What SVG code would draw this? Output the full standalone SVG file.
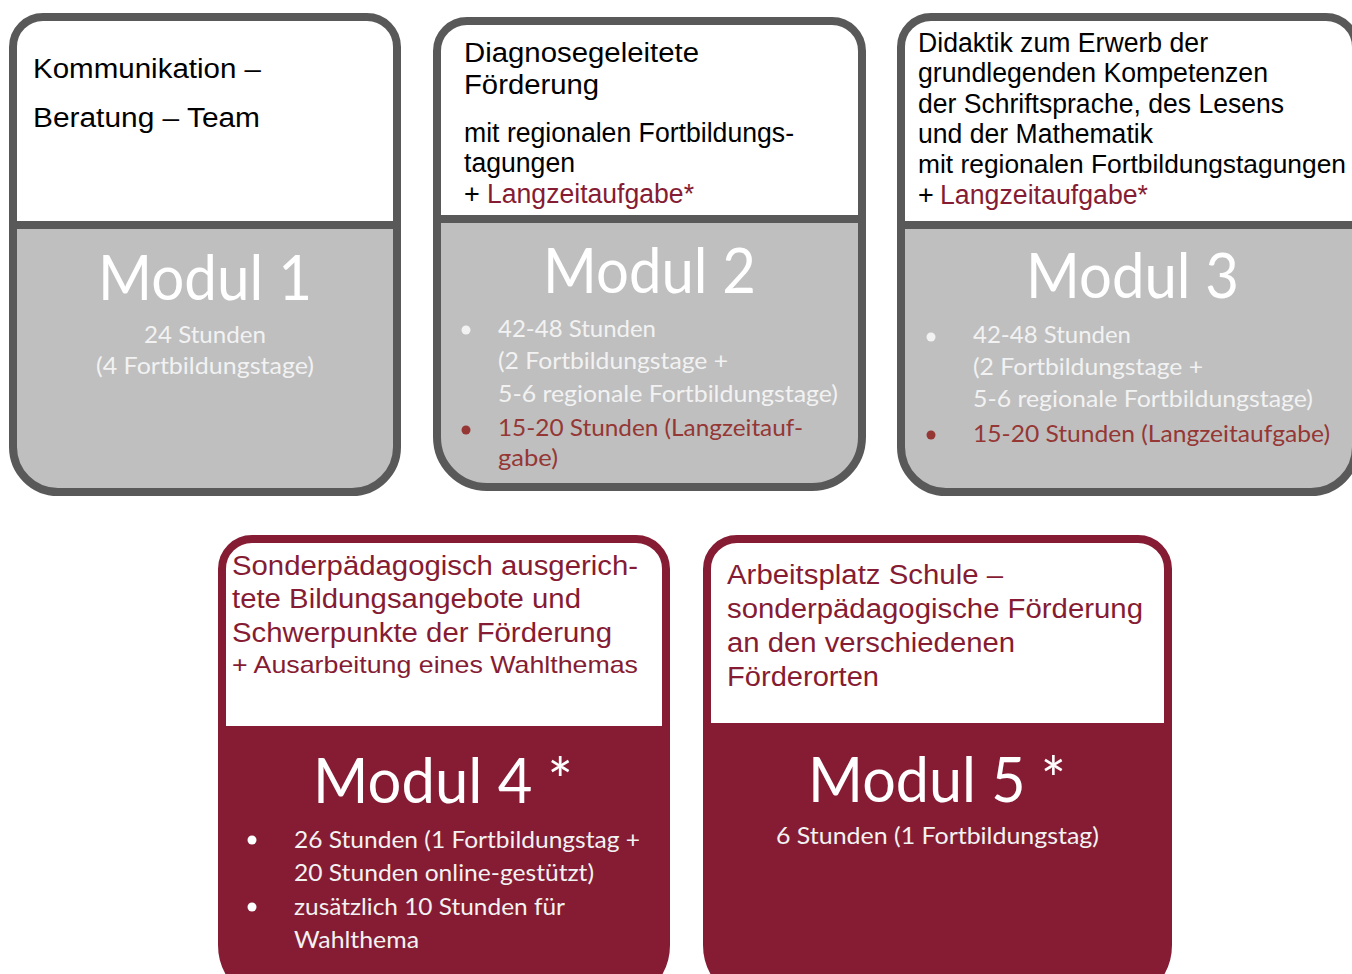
<svg xmlns="http://www.w3.org/2000/svg" width="1352" height="974" viewBox="0 0 1352 974">
<style>
.a{font-family:"Liberation Sans",Arial,sans-serif;font-size:27px;fill:#000}
.r{fill:#861c33}
.s{font-size:24px}
.n{font-size:26px}
.c{font-family:Lato,"Open Sans",sans-serif;fill:#f2f2f2}
.big{font-size:61px;fill:#fff}
.sm{font-size:23px}
.dr{fill:#953735}
.outG{fill:none;stroke:#595959;stroke-width:8}
.outR{fill:none;stroke:#861c33;stroke-width:8}
.gray{fill:#bfbfbf}
.white{fill:#fff}
.red{fill:#861c33}
</style>
<rect width="1352" height="974" fill="#fff"/>

<g id="modul1">
<path class="white" d="M43 17H367A30 30 0 0 1 397 47V225H13V47A30 30 0 0 1 43 17Z"/>
<path class="gray" d="M13 225H397V447A45 45 0 0 1 352 492H58A45 45 0 0 1 13 447Z"/>
<path class="outG" d="M43 17H367A30 30 0 0 1 397 47V447A45 45 0 0 1 352 492H58A45 45 0 0 1 13 447V47A30 30 0 0 1 43 17Z"/>
<line x1="13" y1="225" x2="397" y2="225" stroke="#595959" stroke-width="8"/>
<text class="a" x="33" y="78" textLength="228" lengthAdjust="spacingAndGlyphs">Kommunikation –</text>
<text class="a" x="33" y="127" textLength="227" lengthAdjust="spacingAndGlyphs">Beratung – Team</text>
<text class="c big" x="98" y="300" textLength="214" lengthAdjust="spacingAndGlyphs">Modul 1</text>
<text class="c sm" x="144" y="343" textLength="122" lengthAdjust="spacingAndGlyphs">24 Stunden</text>
<text class="c sm" x="96" y="374" textLength="218" lengthAdjust="spacingAndGlyphs">(4 Fortbildungstage)</text>
</g>

<g id="modul2">
<path class="white" d="M467 21H832A30 30 0 0 1 862 51V219H437V51A30 30 0 0 1 467 21Z"/>
<path class="gray" d="M437 219H862V437A50 50 0 0 1 812 487H487A50 50 0 0 1 437 437Z"/>
<path class="outG" d="M467 21H832A30 30 0 0 1 862 51V437A50 50 0 0 1 812 487H487A50 50 0 0 1 437 437V51A30 30 0 0 1 467 21Z"/>
<line x1="437" y1="219" x2="862" y2="219" stroke="#595959" stroke-width="8"/>
<text class="a" x="464" y="62" textLength="235" lengthAdjust="spacingAndGlyphs">Diagnosegeleitete</text>
<text class="a" x="464" y="94" textLength="135" lengthAdjust="spacingAndGlyphs">Förderung</text>
<text class="a" x="464" y="142" textLength="330" lengthAdjust="spacingAndGlyphs">mit regionalen Fortbildungs-</text>
<text class="a" x="464" y="172" textLength="111" lengthAdjust="spacingAndGlyphs">tagungen</text>
<text class="a" x="464" y="203">+</text>
<text class="a r" x="487" y="203" textLength="207" lengthAdjust="spacingAndGlyphs">Langzeitaufgabe*</text>
<text class="c big" x="543" y="293" textLength="213" lengthAdjust="spacingAndGlyphs">Modul 2</text>
<circle cx="466" cy="330" r="4.5" fill="#f2f2f2"/>
<text class="c sm" x="498" y="337" textLength="158" lengthAdjust="spacingAndGlyphs">42-48 Stunden</text>
<text class="c sm" x="498" y="369" textLength="230" lengthAdjust="spacingAndGlyphs">(2 Fortbildungstage +</text>
<text class="c sm" x="498" y="402" textLength="340" lengthAdjust="spacingAndGlyphs">5-6 regionale Fortbildungstage)</text>
<circle cx="466" cy="430" r="4.5" fill="#953735"/>
<text class="c sm dr" x="498" y="436" textLength="305" lengthAdjust="spacingAndGlyphs">15-20 Stunden (Langzeitauf-</text>
<text class="c sm dr" x="498" y="466" textLength="60" lengthAdjust="spacingAndGlyphs">gabe)</text>
</g>

<g id="modul3">
<path class="white" d="M931 17H1326A30 30 0 0 1 1356 47V225H901V47A30 30 0 0 1 931 17Z"/>
<path class="gray" d="M901 225H1356V447A45 45 0 0 1 1311 492H946A45 45 0 0 1 901 447Z"/>
<path class="outG" d="M931 17H1326A30 30 0 0 1 1356 47V447A45 45 0 0 1 1311 492H946A45 45 0 0 1 901 447V47A30 30 0 0 1 931 17Z"/>
<line x1="901" y1="225" x2="1356" y2="225" stroke="#595959" stroke-width="8"/>
<text class="a" x="918" y="52" textLength="290" lengthAdjust="spacingAndGlyphs">Didaktik zum Erwerb der</text>
<text class="a" x="918" y="82" textLength="350" lengthAdjust="spacingAndGlyphs">grundlegenden Kompetenzen</text>
<text class="a" x="918" y="113" textLength="366" lengthAdjust="spacingAndGlyphs">der Schriftsprache, des Lesens</text>
<text class="a" x="918" y="143" textLength="235" lengthAdjust="spacingAndGlyphs">und der Mathematik</text>
<text class="a n" x="918" y="173" textLength="428" lengthAdjust="spacingAndGlyphs">mit regionalen Fortbildungstagungen</text>
<text class="a" x="918" y="204">+</text>
<text class="a r" x="940" y="204" textLength="208" lengthAdjust="spacingAndGlyphs">Langzeitaufgabe*</text>
<text class="c big" x="1026" y="298" textLength="213" lengthAdjust="spacingAndGlyphs">Modul 3</text>
<circle cx="931" cy="337" r="4.5" fill="#f2f2f2"/>
<text class="c sm" x="973" y="343" textLength="158" lengthAdjust="spacingAndGlyphs">42-48 Stunden</text>
<text class="c sm" x="973" y="375" textLength="230" lengthAdjust="spacingAndGlyphs">(2 Fortbildungstage +</text>
<text class="c sm" x="973" y="407" textLength="340" lengthAdjust="spacingAndGlyphs">5-6 regionale Fortbildungstage)</text>
<circle cx="931" cy="435" r="4.5" fill="#953735"/>
<text class="c sm dr" x="973" y="442" textLength="357" lengthAdjust="spacingAndGlyphs">15-20 Stunden (Langzeitaufgabe)</text>
</g>

<g id="modul4">
<path class="red" d="M252 539H636A30 30 0 0 1 666 569V945A55 55 0 0 1 611 1000H277A55 55 0 0 1 222 945V569A30 30 0 0 1 252 539Z"/>
<path class="white" d="M252 539H636A30 30 0 0 1 666 569V726H222V569A30 30 0 0 1 252 539Z"/>
<path class="outR" d="M252 539H636A30 30 0 0 1 666 569V945A55 55 0 0 1 611 1000H277A55 55 0 0 1 222 945V569A30 30 0 0 1 252 539Z"/>
<text class="a r" x="232" y="575" textLength="406" lengthAdjust="spacingAndGlyphs">Sonderpädagogisch ausgerich-</text>
<text class="a r" x="232" y="608" textLength="349" lengthAdjust="spacingAndGlyphs">tete Bildungsangebote und</text>
<text class="a r" x="232" y="642" textLength="380" lengthAdjust="spacingAndGlyphs">Schwerpunkte der Förderung</text>
<text class="a r s" x="232" y="673" textLength="406" lengthAdjust="spacingAndGlyphs">+ Ausarbeitung eines Wahlthemas</text>
<text class="c big" x="313" y="803" textLength="260" lengthAdjust="spacingAndGlyphs">Modul 4 *</text>
<circle cx="252" cy="840" r="4.5" fill="#fff"/>
<text class="c sm" x="294" y="848" textLength="346" lengthAdjust="spacingAndGlyphs">26 Stunden (1 Fortbildungstag +</text>
<text class="c sm" x="294" y="881" textLength="300" lengthAdjust="spacingAndGlyphs">20 Stunden online-gestützt)</text>
<circle cx="252" cy="907" r="4.5" fill="#fff"/>
<text class="c sm" x="294" y="915" textLength="271" lengthAdjust="spacingAndGlyphs">zusätzlich 10 Stunden für</text>
<text class="c sm" x="294" y="948" textLength="125" lengthAdjust="spacingAndGlyphs">Wahlthema</text>
</g>

<g id="modul5">
<path class="red" d="M737 539H1138A30 30 0 0 1 1168 569V945A55 55 0 0 1 1113 1000H762A55 55 0 0 1 707 945V569A30 30 0 0 1 737 539Z"/>
<path class="white" d="M737 539H1138A30 30 0 0 1 1168 569V723H707V569A30 30 0 0 1 737 539Z"/>
<path class="outR" d="M737 539H1138A30 30 0 0 1 1168 569V945A55 55 0 0 1 1113 1000H762A55 55 0 0 1 707 945V569A30 30 0 0 1 737 539Z"/>
<text class="a r" x="727" y="584" textLength="276" lengthAdjust="spacingAndGlyphs">Arbeitsplatz Schule –</text>
<text class="a r" x="727" y="618" textLength="416" lengthAdjust="spacingAndGlyphs">sonderpädagogische Förderung</text>
<text class="a r" x="727" y="652" textLength="288" lengthAdjust="spacingAndGlyphs">an den verschiedenen</text>
<text class="a r" x="727" y="686" textLength="152" lengthAdjust="spacingAndGlyphs">Förderorten</text>
<text class="c big" x="808" y="802" textLength="258" lengthAdjust="spacingAndGlyphs">Modul 5 *</text>
<text class="c sm" x="776" y="844" textLength="323" lengthAdjust="spacingAndGlyphs">6 Stunden (1 Fortbildungstag)</text>
</g>

<g id="connectors"></g>
</svg>
